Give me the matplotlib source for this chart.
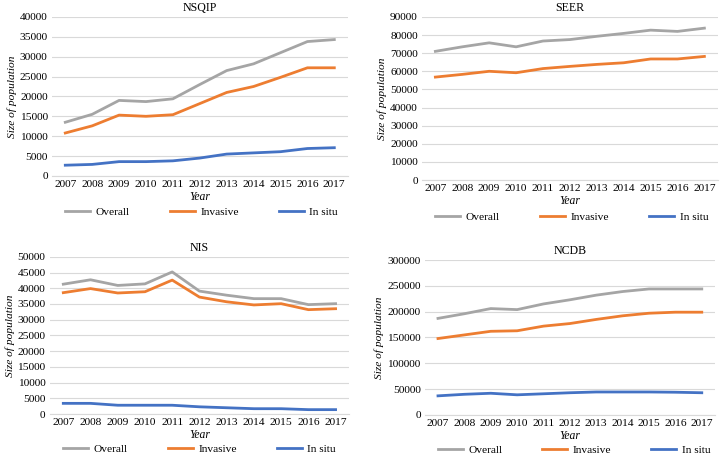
import matplotlib.pyplot as plt
import numpy as np

plt.rcParams['font.family'] = ['Liberation Serif', 'DejaVu Serif']

years = ['2007', '2008', '2009', '2010', '2011', '2012', '2013', '2014', '2015', '2016', '2017']

nsqip_overall = [13500, 15500, 19000, 18700, 19400, 23000, 26500, 28200, 31000, 33800, 34300]
nsqip_invasive = [10800, 12600, 15300, 15000, 15400, 18200, 21000, 22500, 24800, 27200, 27200]
nsqip_insitu = [2700, 2900, 3600, 3600, 3800, 4500, 5500, 5800, 6100, 6900, 7100]

seer_overall = [71000, 73500, 75700, 73500, 76700, 77500, 79300, 80900, 82700, 82000, 83800]
seer_invasive = [56800, 58300, 60000, 59200, 61500, 62700, 63800, 64700, 66800, 66800, 68200]
seer_insitu = []  # no data drawn

nis_overall = [41300, 42700, 40900, 41400, 45200, 39100, 37800, 36700, 36700, 34800, 35100]
nis_invasive = [38600, 39900, 38500, 38900, 42600, 37200, 35700, 34700, 35100, 33200, 33500]
nis_insitu = [3400, 3400, 2800, 2800, 2800, 2300, 2000, 1700, 1700, 1400, 1400]

ncdb_overall = [187000, 196000, 206000, 204000, 215000, 223000, 232000, 239000, 244000, 244000, 244000]
ncdb_invasive = [148000, 155000, 162000, 163000, 172000, 177000, 185000, 192000, 197000, 199000, 199000]
ncdb_insitu = [37000, 40000, 42000, 39000, 41000, 43000, 44500, 44500, 44500, 44000, 43000]

c_over, c_inv, c_ins = '#A5A5A5', '#ED7D31', '#4472C4'

panels = [
    ('NSQIP', nsqip_overall, nsqip_invasive, nsqip_insitu, 40000, 5000,
     [0.072, 0.615, 0.411, 0.348]),
    ('SEER', seer_overall, seer_invasive, seer_insitu, 90000, 10000,
     [0.586, 0.606, 0.411, 0.357]),
    ('NIS', nis_overall, nis_invasive, nis_insitu, 50000, 5000,
     [0.069, 0.094, 0.416, 0.344]),
    ('NCDB', ncdb_overall, ncdb_invasive, ncdb_insitu, 300000, 50000,
     [0.590, 0.092, 0.403, 0.339]),
]

fs = 8.2

fig = plt.figure(figsize=(7.2, 4.57), dpi=100)

for title, over, inv, ins, ymax, step, rect in panels:
    ax = fig.add_axes(rect)
    x = np.arange(len(years))
    ax.plot(x, over, color=c_over, lw=2.0, label='Overall')
    ax.plot(x, inv, color=c_inv, lw=2.0, label='Invasive')
    if ins:
        ax.plot(x, ins, color=c_ins, lw=2.0, label='In situ')
    else:
        ax.plot([], [], color=c_ins, lw=2.0, label='In situ')
    ax.set_xlim(-0.5, len(years) - 0.5)
    ax.set_ylim(0, ymax)
    ax.set_yticks(np.arange(0, ymax + 1, step))
    ax.set_xticks(x)
    ax.set_xticklabels(years)
    ax.tick_params(length=0, labelsize=fs, pad=3)
    ax.tick_params(axis='y', pad=3)
    ax.grid(axis='y', color='#D9D9D9', lw=0.8)
    ax.set_axisbelow(True)
    for s in ['top', 'right', 'left']:
        ax.spines[s].set_visible(False)
    ax.spines['bottom'].set_color('#D9D9D9')
    ax.set_title(title, fontsize=fs + 0.4, pad=4)
    ax.set_xlabel('Year', fontsize=fs + 0.2, style='italic', labelpad=1)
    ax.set_ylabel('Size of population', fontsize=fs, style='italic', labelpad=2)
    ax.legend(loc='center left', bbox_to_anchor=(0.044, -0.225), ncol=3,
              frameon=False, fontsize=fs, handlelength=2.2, borderaxespad=0,
              borderpad=0, handletextpad=0.5, columnspacing=3.5)

fig.savefig('out.png', dpi=100)
